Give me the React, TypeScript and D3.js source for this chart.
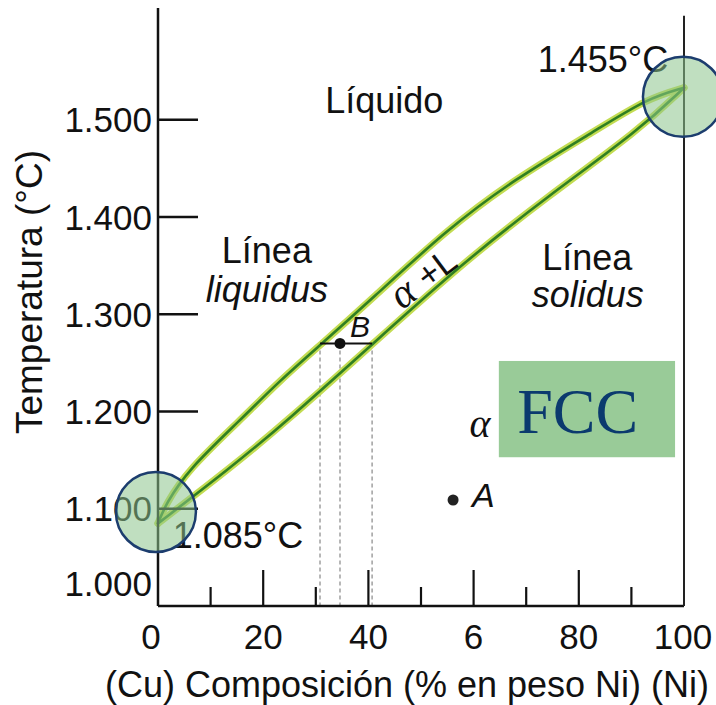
import React from "react";
import * as d3 from "d3";

// ---- data ----
const liquidusNi = [0, 1.5, 5.7, 15.6, 23.2, 31.2, 40.5, 54.9, 67.5, 83.5, 93.0, 100];
const liquidusT = [1085, 1105, 1140, 1191, 1232, 1270, 1315, 1387, 1438, 1490, 1522, 1533];
const solidusNi = [0, 13.3, 24.7, 40.7, 58.0, 74.0, 91.6, 100];
const solidusT = [1085, 1140, 1191, 1269, 1353, 1421, 1490, 1533];

const yTickValues = [1000, 1100, 1200, 1300, 1400, 1500];
const xMajorTicks = [0, 20, 40, 60, 80, 100];
const xMajorLabels = ["0", "20", "40", "6", "80", "100"];
const xMinorTicks = [10, 30, 50, 70, 90];

const pointB = { ni: 34.6, t: 1270 };
const tieLine = [30.8, 40.7];
const pointA = { ni: 56.1, t: 1109 };

const W = 716;
const H = 705;
const SANS = "'Liberation Sans', Arial, Helvetica, sans-serif";
const SERIF = "'Liberation Serif', 'Times New Roman', serif";

const esLocale = d3.formatLocale({ decimal: ",", thousands: ".", grouping: [3], currency: ["", "€"] });
const fmt = esLocale.format(",");

export default function App() {
  const x = d3.scaleLinear().domain([0, 100]).range([158, 684]);
  const y = d3.scaleLinear().domain([1000, 1615]).range([606, 8]);

  const line = d3
    .line<[number, number]>()
    .x((d) => x(d[0]))
    .y((d) => y(d[1]))
    .curve(d3.curveBasis);

  const liq = line(liquidusNi.map((v, i) => [v, liquidusT[i]]) as [number, number][]) || "";
  const sol = line(solidusNi.map((v, i) => [v, solidusT[i]]) as [number, number][]) || "";

  const x0 = x(0);
  const yBottom = y(1000);

  const curveOuter = { fill: "none", stroke: "#c3dc52", strokeWidth: 7, strokeLinecap: "round" as const };
  const curveInner = { fill: "none", stroke: "#2f7f22", strokeWidth: 2.6, strokeLinecap: "round" as const };

  return (
    <svg
      width={W}
      height={H}
      viewBox={`0 0 ${W} ${H}`}
      style={{ position: "absolute", left: 0, top: 0, background: "#fff" }}
    >
      <rect x={0} y={0} width={W} height={H} fill="#fff" />

      {/* dashed verticals */}
      {[tieLine[0], pointB.ni, tieLine[1]].map((v, i) => (
        <line
          key={"dash" + i}
          x1={x(v)}
          x2={x(v)}
          y1={y(pointB.t)}
          y2={yBottom}
          stroke="#888"
          strokeWidth={1.2}
          strokeDasharray="4,3"
        />
      ))}

      {/* curves */}
      <path d={liq} {...curveOuter} />
      <path d={sol} {...curveOuter} />
      <path d={liq} {...curveInner} />
      <path d={sol} {...curveInner} />

      {/* axes */}
      <line x1={x0} x2={x0} y1={y(1615)} y2={yBottom} stroke="#111" strokeWidth={2.5} />
      <line x1={x0} x2={x(100)} y1={yBottom} y2={yBottom} stroke="#111" strokeWidth={2.5} />
      <line x1={x(100)} x2={x(100)} y1={y(1607)} y2={yBottom} stroke="#222" strokeWidth={2} />

      {yTickValues.map((v) => (
        <g key={"yt" + v}>
          {v > 1000 && (
            <line x1={x0} x2={x0 + 40} y1={y(v)} y2={y(v)} stroke="#111" strokeWidth={2.5} />
          )}
          <text
            x={x0 - 6}
            y={v > 1000 ? y(v) : y(v) - 23}
            textAnchor="end"
            dominantBaseline="central"
            fontFamily={SANS}
            fontSize={35}
            fill="#111"
          >
            {fmt(v)}
          </text>
        </g>
      ))}

      {xMajorTicks.map((v, i) => (
        <g key={"xt" + v}>
          {v > 0 && v < 100 && (
            <line x1={x(v)} x2={x(v)} y1={yBottom} y2={yBottom - 36} stroke="#111" strokeWidth={2.2} />
          )}
          <text
            x={x(v) + (v === 0 ? -7 : v === 100 ? -1 : 0)}
            y={649}
            textAnchor="middle"
            fontFamily={SANS}
            fontSize={35}
            fill="#111"
          >
            {xMajorLabels[i]}
          </text>
        </g>
      ))}
      {xMinorTicks.map((v) => (
        <line key={"xm" + v} x1={x(v)} x2={x(v)} y1={yBottom} y2={yBottom - 19} stroke="#111" strokeWidth={2.2} />
      ))}

      {/* axis titles */}
      <text x={407} y={697} textAnchor="middle" fontFamily={SANS} fontSize={36} fill="#111">
        (Cu) Composición (% en peso Ni)  (Ni)
      </text>
      <text
        transform={`translate(42, 292) rotate(-90)`}
        textAnchor="middle"
        fontFamily={SANS}
        fontSize={37}
        fill="#111"
      >
        Temperatura (°C)
      </text>

      {/* region labels */}
      <text x={x(43)} y={y(1507)} textAnchor="middle" fontFamily={SANS} fontSize={36} fill="#111">
        Líquido
      </text>
      <text x={x(20.7)} y={y(1353)} textAnchor="middle" fontFamily={SANS} fontSize={36} fill="#111">
        Línea
      </text>
      <text x={x(20.7)} y={y(1313)} textAnchor="middle" fontFamily={SANS} fontSize={36} fontStyle="italic" fill="#111">
        liquidus
      </text>
      <text x={x(81.6)} y={y(1346)} textAnchor="middle" fontFamily={SANS} fontSize={36} fill="#111">
        Línea
      </text>
      <text x={x(81.7)} y={y(1307)} textAnchor="middle" fontFamily={SANS} fontSize={36} fontStyle="italic" fill="#111">
        solidus
      </text>
      <text x={x(84.6)} y={y(1549)} textAnchor="middle" fontFamily={SANS} fontSize={36} fill="#111">
        1.455°C
      </text>
      <text x={x(15.2)} y={y(1060)} textAnchor="middle" fontFamily={SANS} fontSize={36} fill="#111">
        1.085°C
      </text>
      <text
        transform={`translate(${x(50.3)}, ${y(1338)}) rotate(-37)`}
        textAnchor="middle"
        dominantBaseline="central"
        fill="#111"
      >
        <tspan fontFamily={SERIF} fontStyle="italic" fontSize={42}>α</tspan>
        <tspan fontFamily={SANS} fontSize={35} dx={11}>+L</tspan>
      </text>

      {/* tie line, point B */}
      <line x1={x(tieLine[0])} x2={x(tieLine[1])} y1={y(pointB.t)} y2={y(pointB.t)} stroke="#111" strokeWidth={2} />
      <circle cx={x(pointB.ni)} cy={y(pointB.t)} r={5.5} fill="#111" />
      <text x={x(36.5)} y={y(1277)} fontFamily={SANS} fontStyle="italic" fontSize={30} fill="#111">
        B
      </text>

      {/* alpha, A */}
      <text x={x(61.2)} y={y(1174)} textAnchor="middle" fontFamily={SERIF} fontStyle="italic" fontSize={40} fill="#111">
        α
      </text>
      <circle cx={x(pointA.ni)} cy={y(pointA.t)} r={5.5} fill="#222" />
      <text x={x(59.7)} y={y(1102)} fontFamily={SANS} fontStyle="italic" fontSize={34} fill="#111">
        A
      </text>

      {/* FCC box */}
      <rect x={x(64.8)} y={y(1252)} width={x(98.3) - x(64.8)} height={y(1153) - y(1252)} fill="#99cb98" />
      <text x={x(79.8)} y={y(1178)} textAnchor="middle" fontFamily={SERIF} fontSize={64} fill="#0b3a6e">
        FCC
      </text>

      {/* highlight circles */}
      <circle cx={x(99.8)} cy={y(1523.7)} r={40} fill="rgb(140,196,140)" fillOpacity={0.55} stroke="#1c3d6e" strokeWidth={2.5} />
      <circle cx={x(-0.4)} cy={y(1096.7)} r={40} fill="rgb(140,196,140)" fillOpacity={0.55} stroke="#1c3d6e" strokeWidth={2.5} />
    </svg>
  );
}
